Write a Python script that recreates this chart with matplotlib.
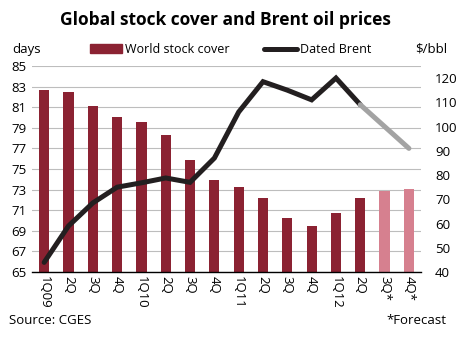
import matplotlib.pyplot as plt
import numpy as np

plt.rcParams['font.family'] = ['Open Sans', 'DejaVu Sans']

quarters = ['1Q09', '2Q', '3Q', '4Q', '1Q10', '2Q', '3Q', '4Q',
            '1Q11', '2Q', '3Q', '4Q', '1Q12', '2Q', '3Q*', '4Q*']
stock_cover = [82.7, 82.5, 81.1, 80.0, 79.6, 78.3, 75.9, 73.9,
               73.3, 72.2, 70.2, 69.5, 70.7, 72.2, 72.9, 73.1]
brent = [44, 59, 68.5, 75, 76.8, 78.8, 77, 87,
         106, 118.5, 115, 111, 120, 109, 100, 91]
n_actual = 14  # last two quarters are forecasts

bar_col = '#8B2232'
bar_fc = '#D6808F'
line_col = '#231F20'
line_fc = '#A3A3A3'

fig = plt.figure(figsize=(4.61, 3.38), dpi=100)
ax = fig.add_axes([0.0694, 0.195, 0.844, 0.61])
x = np.arange(len(quarters))

colors = [bar_col] * n_actual + [bar_fc] * (len(quarters) - n_actual)
ax.bar(x, np.array(stock_cover) - 65, bottom=65, width=0.42, color=colors, zorder=2)
ax.set_ylim(65, 85)
ax.set_xlim(-0.5, len(quarters) - 0.5)
ax.set_yticks(range(65, 86, 2))
ax.yaxis.grid(True, color='#BDBDBD', linewidth=0.8, zorder=0)
ax.set_axisbelow(True)
for s in ['top', 'left', 'right']:
    ax.spines[s].set_visible(False)
ax.spines['bottom'].set_color('black')
ax.spines['bottom'].set_linewidth(1.0)
ax.tick_params(axis='y', length=0, labelsize=9.5, pad=4)
ax.set_xticks(x)
ax.set_xticklabels(quarters, rotation=-90, fontsize=9.5)
ax.tick_params(axis='x', length=0, pad=3)

ax2 = ax.twinx()
ax2.plot(x[:n_actual], brent[:n_actual], color=line_col, linewidth=3.6,
         solid_capstyle='round', solid_joinstyle='miter', zorder=3)
ax2.plot(x[n_actual - 1:], brent[n_actual - 1:], color=line_fc, linewidth=3.6,
         solid_capstyle='round', zorder=3)
ax2.set_ylim(40, 125)
ax2.set_yticks(range(40, 121, 10))
ax2.tick_params(axis='y', length=0, labelsize=9.5, pad=10)
for s in ['top', 'left', 'right', 'bottom']:
    ax2.spines[s].set_visible(False)

fig.text(0.49, 0.94, 'Global stock cover and Brent oil prices', ha='center',
         va='center', fontsize=12.5, fontweight='bold')
fig.text(0.026, 0.855, 'days', ha='left', va='center', fontsize=9.5)
fig.text(0.97, 0.855, '$/bbl', ha='right', va='center', fontsize=9.5)

# legend drawn by hand to sit on the header row
fig.patches.append(plt.Rectangle((0.195, 0.843), 0.07, 0.026, transform=fig.transFigure,
                                 color=bar_col))
fig.text(0.272, 0.855, 'World stock cover', ha='left', va='center', fontsize=9)
fig.lines.append(plt.Line2D([0.573, 0.645], [0.855, 0.855], transform=fig.transFigure,
                            color=line_col, linewidth=3.6, solid_capstyle='round'))
fig.text(0.65, 0.855, 'Dated Brent', ha='left', va='center', fontsize=9)

fig.text(0.02, 0.053, 'Source: CGES', ha='left', va='center', fontsize=9.5)
fig.text(0.968, 0.053, '*Forecast', ha='right', va='center', fontsize=9.5)

fig.savefig('out.png', dpi=100)
